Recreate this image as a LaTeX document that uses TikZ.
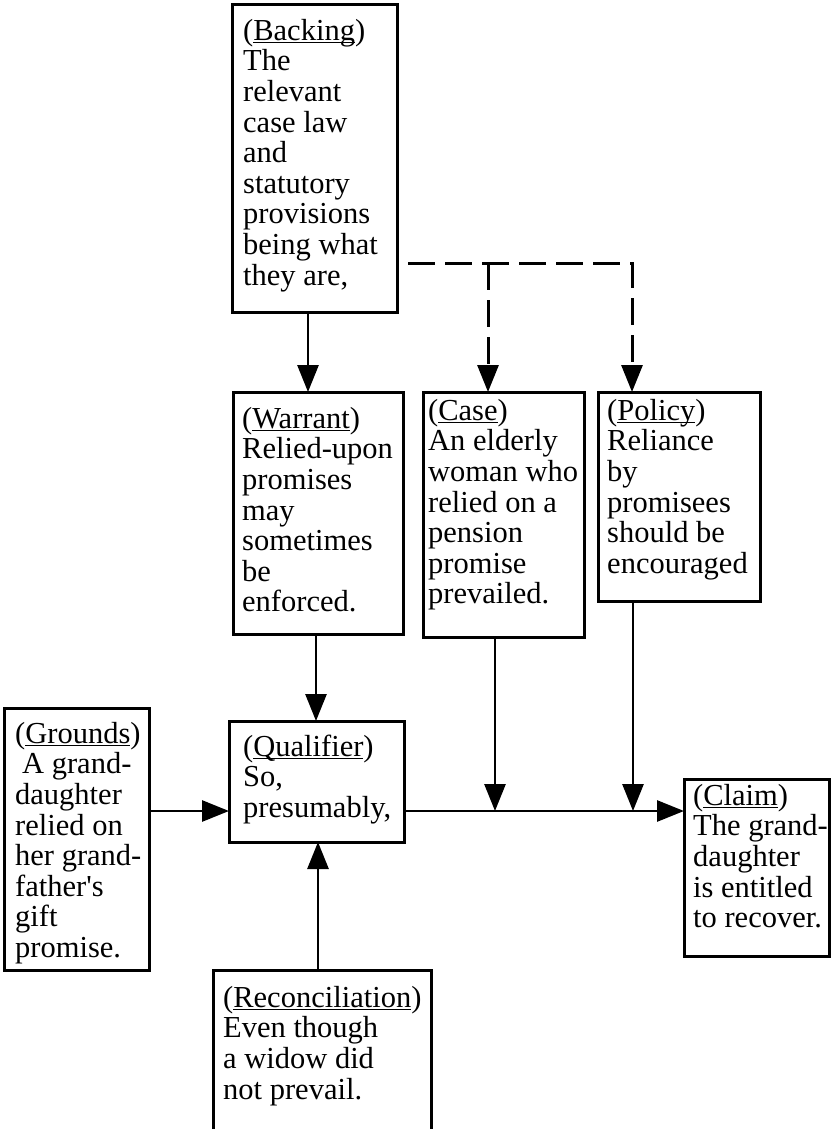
\documentclass[tikz,border=0pt]{standalone}
\usepackage{fontspec}
\setmainfont{Liberation Serif}[Ligatures=TeXOff]
\usetikzlibrary{arrows.meta}
\newcommand\ulw[1]{\setbox0\hbox{#1}\rlap{\rule[-3.2pt]{\wd0}{1.4pt}}\box0}
\newcommand\fl{\rule{0pt}{22pt}}
\begin{document}
\begin{tikzpicture}[x=1pt,y=-1pt,
  box/.style={draw, line width=3pt, inner sep=0pt, outer sep=0pt},
  txt/.style={anchor=north west, inner sep=0pt, align=left, font=\fontsize{30.5}{30.6}\selectfont},
  arr/.style={line width=2.8pt, -{Triangle[length=27pt,width=21pt]}},
  darr/.style={line width=3pt, dash pattern=on 27pt off 10pt, -{Triangle[length=27pt,width=21pt]}}]
\useasboundingbox (0,0) rectangle (830,1129);
% boxes
\node[box, minimum width=165pt, minimum height=307pt] (backing) at (314.5,158.5) {};
\node[box, minimum width=170pt, minimum height=242pt] (warrant) at (318,513) {};
\node[box, minimum width=161pt, minimum height=245pt] (case) at (503.5,514.5) {};
\node[box, minimum width=162pt, minimum height=209pt] (policy) at (679,496.5) {};
\node[box, minimum width=145pt, minimum height=262pt] (grounds) at (76.5,839) {};
\node[box, minimum width=175pt, minimum height=121pt] (qualifier) at (316.5,781.5) {};
\node[box, minimum width=145pt, minimum height=177pt] (claim) at (756.5,867.5) {};
\node[inner sep=0pt, outer sep=0pt, minimum width=218pt, minimum height=180pt] (recon) at (322,1060) {};
\draw[line width=3pt] (recon.south west) -- (recon.north west) -- (recon.north east) -- (recon.south east);
% texts
\node[txt] (backingT) at (243,18) {\fl(\ulw{Backing})\\The\\relevant\\case law\\and\\statutory\\provisions\\being what\\they are,};
\node[txt] (warrantT) at (242,406) {\fl(\ulw{Warrant})\\Relied-upon\\promises\\may\\sometimes\\be\\enforced.};
\node[txt] (caseT) at (428,398) {\fl(\ulw{Case})\\An elderly\\woman who\\relied on a\\pension\\promise\\prevailed.};
\node[txt] (policyT) at (607,398) {\fl(\ulw{Policy})\\Reliance\\by\\promisees\\should be\\encouraged};
\node[txt] (groundsT) at (15,721) {\fl(\ulw{Grounds})\\\hspace{7pt}A grand-\\daughter\\relied on\\her grand-\\father's\\gift\\promise.};
\node[txt] (qualifierT) at (243,734) {\fl(\ulw{Qualifier})\\So,\\presumably,};
\node[txt] (claimT) at (693,783) {\fl(\ulw{Claim})\\The grand-\\daughter\\is entitled\\to recover.};
\node[txt] (reconT) at (223,985) {\fl(\ulw{Reconciliation})\\Even though\\a widow did\\not prevail.};
% helper coordinates
\coordinate (xbw) at (308,0);
\coordinate (xwq) at (316,0);
\coordinate (xrq) at (318,0);
\coordinate (xc) at (495,0);
\coordinate (xp) at (633,0);
\coordinate (ymain) at (0,811);
\coordinate (dstart) at (408,263);
\coordinate (dbranch) at (488,263);
\coordinate (dcorner) at (632,263);
% connectors
\draw[arr] (backing.south -| xbw) -- (warrant.north -| xbw);
\draw[darr] (dstart) -- (dcorner) -- (policy.north -| dcorner);
\draw[darr] (dbranch) -- (case.north -| dbranch);
\draw[arr] (warrant.south -| xwq) -- (qualifier.north -| xwq);
\draw[arr] (recon.north -| xrq) -- (qualifier.south -| xrq);
\draw[arr] (grounds.east |- ymain) -- (qualifier.west |- ymain);
\draw[arr] (qualifier.east |- ymain) -- (claim.west |- ymain);
\draw[arr] (case.south -| xc) -- (xc |- ymain);
\draw[arr] (policy.south -| xp) -- (xp |- ymain);
\end{tikzpicture}
\end{document}
